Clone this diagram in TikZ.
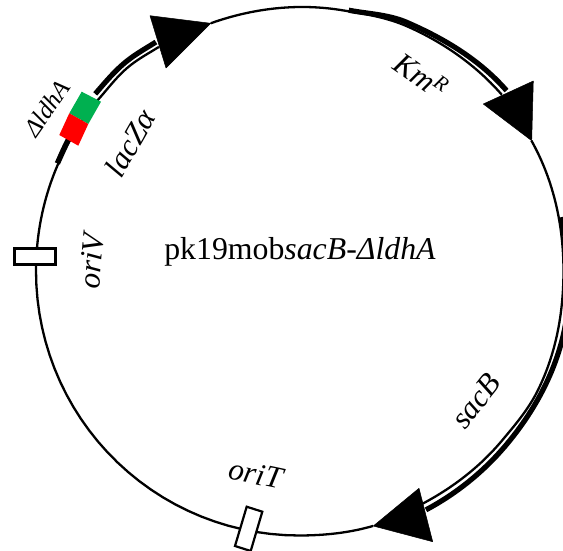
\documentclass[tikz,border=0pt]{standalone}
\usepackage{fontspec}
\setmainfont{Liberation Serif}
\newcommand{\radseg}[4]{plot[domain=#1:#2,samples=30,variable=\t] ({-\t}:{#3+(#4-#3)*((\t-#1)/(#2-#1))*((\t-#1)/(#2-#1))*(3-2*(\t-#1)/(#2-#1))})}
\begin{document}
\begin{tikzpicture}[x=1pt,y=-1pt,
  backbone/.style={line width=2.3pt,line join=round},
  gene/.style={line width=5.2pt,line join=round},
  tip/.style={fill=black,draw=black,line width=.5pt,line join=round},
  site/.style={draw=black,fill=white,line width=2.2pt},
  lab/.style={inner sep=0pt,font=\fontsize{31}{34}\selectfont\itshape}]
\useasboundingbox (0,0) rectangle (563,551);
\clip (0,0) rectangle (563,551);
\begin{scope}[shift={(299,271)}]
% backbone
\draw[backbone] \radseg{122}{130}{264.3}{266} \radseg{130}{139}{266}{264} \radseg{139}{180}{264}{263} \radseg{180}{270}{263}{264.5} \radseg{270}{286.2}{264.5}{265.5};
\draw[backbone] \radseg{109.6}{81}{263}{264.3} \radseg{81}{66}{264.3}{267.5} \radseg{66}{41}{267.5}{268.7};
\draw[backbone] \radseg{29.3}{0}{266.5}{264.5} \radseg{0}{-27}{264.5}{267} \radseg{-27}{-40}{267}{264.5} \radseg{-40}{-62}{264.5}{263.5};
% thick gene arcs
\draw[gene] \radseg{139}{130}{270}{271.5} \radseg{130}{122}{271.5}{270};
\draw[line width=5.5pt] \radseg{156}{146}{264.5}{266};
\draw[gene] \radseg{79.2}{66.5}{265.5}{271} \radseg{66.5}{41}{271}{275};
\draw[gene] \radseg{11.6}{-15}{268}{272} \radseg{-15}{-40}{272}{270.5} \radseg{-40}{-62}{270.5}{270.5};
\end{scope}
% arrowheads
\fill[tip] (150,15.7) -- (210.7,23.3) -- (166,68) -- cycle;
\fill[tip] (533.3,81) -- (483.3,104) -- (531.7,140.7) -- cycle;
\fill[tip] (419,488.3) -- (432.7,541.7) -- (373.3,526) -- cycle;
% deletion marker
\fill[fill={rgb,255:red,0;green,176;blue,80}] (81.7,91.7) -- (101,101.7) -- (88.3,124) -- (69.3,113.3) -- cycle;
\fill[red] (69.3,113.3) -- (88.3,124) -- (78.3,145.7) -- (59.3,135) -- cycle;
% sites
\draw[site] (14.5,248.5) rectangle (55.5,264.5);
\draw[site] (246.7,506.7) -- (262.3,511.7) -- (250.7,551) -- (235,546) -- cycle;
% labels
\node[lab,rotate=55] (dldh) at (47,108) {\fontsize{25}{27}\selectfont ΔldhA};
\node[lab,rotate=60] (lacz) at (130,143) {lacZα};
\node[lab,rotate=85] (oriv) at (92,261) {oriV};
\node[lab,rotate=-35] (kmr) at (421,75) {Km\raisebox{9pt}{\fontsize{21}{23}\selectfont R}};
\node[lab,rotate=52] (sacb) at (476,401) {sacB};
\node[lab,rotate=-12] (orit) at (256,474) {oriT};
\node[inner sep=0pt,font=\fontsize{31.8}{34}\selectfont] (title) at (300,252) {pk19mob\textit{sacB-ΔldhA}};
\end{tikzpicture}
\end{document}
